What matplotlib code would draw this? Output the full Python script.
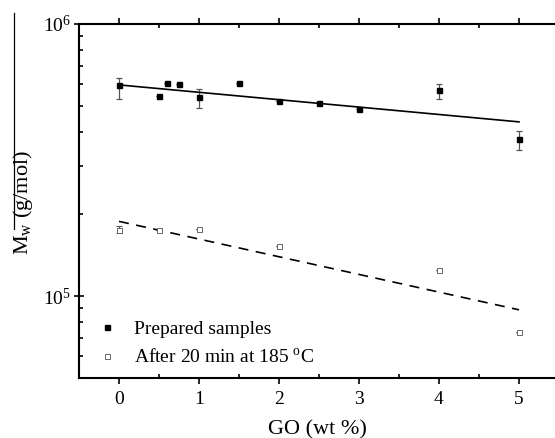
import numpy as np
import matplotlib
matplotlib.use("Agg")
import matplotlib.pyplot as plt
from matplotlib.ticker import LogLocator, NullFormatter, MultipleLocator
from matplotlib.lines import Line2D

plt.rcParams['font.family'] = ['Liberation Serif', 'DejaVu Serif']
plt.rcParams['mathtext.fontset'] = 'custom'
plt.rcParams['mathtext.rm'] = 'Liberation Serif'
plt.rcParams['mathtext.it'] = 'Liberation Serif:italic'
plt.rcParams['mathtext.bf'] = 'Liberation Serif:bold'

# prepared samples
go_prep = [0, 0.5, 0.6, 0.75, 1, 1.5, 2, 2.5, 3, 4, 5]
mw_prep = [5.96e5, 5.42e5, 6.08e5, 6.01e5, 5.36e5, 6.07e5, 5.18e5, 5.12e5, 4.86e5, 5.69e5, 3.78e5]
err_lo_prep = [5.30e5, 5.42e5, 6.08e5, 6.01e5, 4.91e5, 6.07e5, 5.18e5, 5.12e5, 4.86e5, 5.30e5, 3.44e5]
err_hi_prep = [6.30e5, 5.42e5, 6.08e5, 6.01e5, 5.78e5, 6.07e5, 5.18e5, 5.12e5, 4.86e5, 6.01e5, 4.05e5]
fit_prep_x = [0, 5]
fit_prep_y = [5.96e5, 4.36e5]

# after 20 min at 185 C
go_heat = [0, 0.5, 1, 2, 4, 5]
mw_heat = [1.75e5, 1.75e5, 1.76e5, 1.53e5, 1.25e5, 7.35e4]
err_lo_heat = [1.70e5, 1.75e5, 1.76e5, 1.53e5, 1.25e5, 7.35e4]
err_hi_heat = [1.81e5, 1.75e5, 1.76e5, 1.53e5, 1.25e5, 7.35e4]
fit_heat_x = [0, 5]
fit_heat_y = [1.88e5, 8.9e4]

fig = plt.figure(figsize=(5.55, 4.38), dpi=100)
ax = fig.add_axes([79/555, 60/438, 476/555, 354.3/438])

# error bars
mw_p = np.array(mw_prep)
ax.errorbar(go_prep, mw_prep,
            yerr=[mw_p - np.array(err_lo_prep), np.array(err_hi_prep) - mw_p],
            fmt='none', ecolor='#555555', elinewidth=0.9, capsize=2.5, capthick=0.9)
mw_h = np.array(mw_heat)
ax.errorbar(go_heat, mw_heat,
            yerr=[mw_h - np.array(err_lo_heat), np.array(err_hi_heat) - mw_h],
            fmt='none', ecolor='#555555', elinewidth=0.8, capsize=2, capthick=0.8)

# fit lines
ax.plot(fit_prep_x, fit_prep_y, color='black', lw=1.2)
ax.plot(fit_heat_x, fit_heat_y, color='black', lw=1.2, dashes=(6, 4.5))

# markers
ax.plot(go_prep, mw_prep, linestyle='none', marker='s', markersize=3.6,
        color='black', label='Prepared samples')
ax.plot(go_heat, mw_heat, linestyle='none', marker='s', markersize=3.6,
        markerfacecolor='white', markeredgecolor='#666666', markeredgewidth=0.7,
        label='After 20 min at 185 $^{\\mathrm{o}}$C')

ax.set_yscale('log')
ax.set_xlim(-0.5, 5.45)
ax.set_ylim(5e4, 1e6)

ax.xaxis.set_major_locator(MultipleLocator(1))
ax.xaxis.set_minor_locator(MultipleLocator(0.5))
ax.yaxis.set_major_locator(LogLocator(base=10))
ax.yaxis.set_minor_locator(LogLocator(base=10, subs=np.arange(2, 10)))
ax.yaxis.set_minor_formatter(NullFormatter())

ax.spines['right'].set_visible(False)
for s in ['left', 'top', 'bottom']:
    ax.spines[s].set_linewidth(1.5)

ax.tick_params(axis='x', which='major', direction='out', length=4, width=1.2,
               top=True, labelsize=14, pad=5)
ax.tick_params(axis='x', which='minor', direction='in', length=3, width=1.2, top=True)
ax.tick_params(axis='y', which='major', direction='inout', length=7, width=1.2,
               right=False, labelsize=14, pad=2)
ax.tick_params(axis='y', which='minor', direction='in', length=3, width=1.2, right=False)

ax.set_xlabel('GO (wt %)', fontsize=16, labelpad=9)
fig.text(23/555, 1 - 202/438, 'M$_{\\mathrm{w}}$ (g/mol)', rotation=90,
         fontsize=16, ha='center', va='center')
# overline over M_w, as drawn in the original
fig.add_artist(Line2D([14/555, 14/555], [1 - 13/438, 1 - 229/438],
                      color='black', lw=0.9, transform=fig.transFigure))

ax.legend(loc='lower left', frameon=False, fontsize=14, handlelength=1.0,
          handletextpad=0.9, borderaxespad=0.2, labelspacing=0.55,
          bbox_to_anchor=(0.013, 0.0))

fig.savefig('out.png', dpi=100)
